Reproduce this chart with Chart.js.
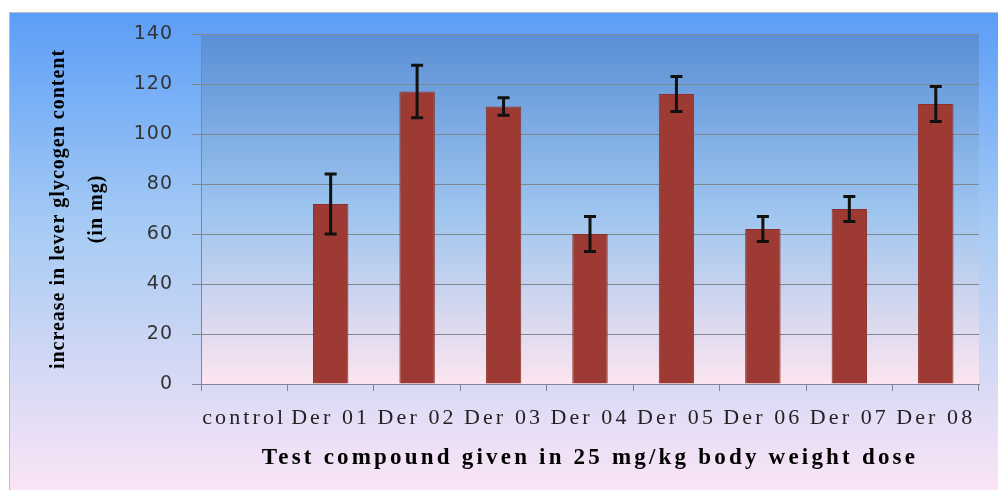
<!DOCTYPE html>
<html>
<head>
<meta charset="utf-8">
<script src="https://cdn.jsdelivr.net/npm/chart.js@4/dist/chart.umd.min.js"></script>
<style>
  html, body { margin: 0; padding: 0; background: #fff; }
  #wrap { width: 998px; height: 490px; }
</style>
</head>
<body>
<div id="wrap"><canvas id="glyChart"></canvas></div>
<script>
const categories = ['control', 'Der 01', 'Der 02', 'Der 03', 'Der 04', 'Der 05', 'Der 06', 'Der 07', 'Der 08'];
const glycogen = [0, 72, 117, 111, 60, 116, 62, 70, 112];
const errors = [null, 12, 10.5, 3.5, 7, 7, 5, 5, 7];
const yTicks = [0, 20, 40, 60, 80, 100, 120, 140];

// spaced text: canvas letterSpacing around a scale's draw method
function spaced(fn, ls) {
    return function (...args) {
        const c = this.ctx;
        const old = c.letterSpacing;
        c.letterSpacing = ls;
        fn.apply(this, args);
        c.letterSpacing = old;
    };
}

const letterPlugin = {
    id: 'letters',
    afterUpdate(chart) {
        const x = chart.scales.x, y = chart.scales.y;
        if (x._patched) return;
        const proto = Object.getPrototypeOf(x);
        x.drawLabels = spaced(proto.drawLabels, '3.1px');
        x.drawTitle = spaced(proto.drawTitle, '3.2px');
        y.drawLabels = spaced(Object.getPrototypeOf(y).drawLabels, '1px');
        y.drawTitle = spaced(Object.getPrototypeOf(y).drawTitle, '1px');
        x._patched = true;
    }
};

const backgroundPlugin = {
    id: 'bg',
    beforeDraw(chart) {
        const ctx = chart.ctx;
        const a = chart.chartArea;
        ctx.save();
        ctx.fillStyle = '#ffffff';
        ctx.fillRect(0, 0, chart.width, chart.height);
        // outer frame
        let g = ctx.createLinearGradient(0, 12, 0, chart.height);
        g.addColorStop(0, '#5b9df7');
        g.addColorStop(0.45, '#a6cbf4');
        g.addColorStop(1, '#fbe4f6');
        ctx.fillStyle = g;
        ctx.fillRect(9, 12, chart.width - 9, chart.height - 12);
        ctx.strokeStyle = '#b8c0cc';
        ctx.lineWidth = 1;
        ctx.beginPath();
        ctx.moveTo(9.5, chart.height);
        ctx.lineTo(9.5, 12.5);
        ctx.lineTo(chart.width, 12.5);
        ctx.stroke();
        // plot area
        g = ctx.createLinearGradient(0, a.top, 0, a.bottom);
        g.addColorStop(0, '#5a8fd6');
        g.addColorStop(0.5, '#9cc4ee');
        g.addColorStop(1, '#fde5f0');
        ctx.fillStyle = g;
        ctx.fillRect(a.left, a.top, a.right - a.left, a.bottom - a.top);
        ctx.restore();
    }
};

const errorBarPlugin = {
    id: 'errorBars',
    afterDatasetsDraw(chart) {
        const ctx = chart.ctx;
        const meta = chart.getDatasetMeta(0);
        const yScale = chart.scales.y;
        ctx.save();
        ctx.strokeStyle = '#111111';
        ctx.lineWidth = 3;
        meta.data.forEach((bar, i) => {
            const e = errors[i];
            if (e == null) return;
            const top = yScale.getPixelForValue(glycogen[i] + e);
            const bottom = yScale.getPixelForValue(glycogen[i] - e);
            ctx.beginPath();
            ctx.moveTo(bar.x, top);
            ctx.lineTo(bar.x, bottom);
            ctx.moveTo(bar.x - 6, top);
            ctx.lineTo(bar.x + 6, top);
            ctx.moveTo(bar.x - 6, bottom);
            ctx.lineTo(bar.x + 6, bottom);
            ctx.stroke();
        });
        ctx.restore();
    }
};

document.addEventListener('DOMContentLoaded', () => {
    const ctx = document.getElementById('glyChart').getContext('2d');
    new Chart(ctx, {
        type: 'bar',
        data: {
            labels: categories,
            datasets: [{
                data: glycogen,
                backgroundColor: '#9c3a33',
                borderColor: '#8a3029',
                borderWidth: 1,
                barPercentage: 0.41,
                categoryPercentage: 1
            }]
        },
        options: {
            responsive: true,
            maintainAspectRatio: false,
            animation: false,
            layout: { padding: { left: 10, top: 34, right: 19, bottom: 0 } },
            plugins: {
                legend: { display: false },
                tooltip: { enabled: false }
            },
            scales: {
                x: {
                    grid: { drawOnChartArea: false, drawTicks: true, tickLength: 7, offset: true, color: '#7f8791' },
                    border: { color: '#7f8791' },
                    ticks: {
                        color: '#222222',
                        font: { family: 'Liberation Serif', size: 22 },
                        padding: 14,
                        maxRotation: 0,
                        autoSkip: false
                    },
                    title: {
                        display: true,
                        text: 'Test compound given in 25 mg/kg body weight dose',
                        color: '#000000',
                        font: { family: 'Liberation Serif', size: 23, weight: 'bold' },
                        padding: { top: 0, bottom: 18 }
                    },
                    afterFit(s) { s.height = 490 - 384; }
                },
                y: {
                    min: 0,
                    max: 140,
                    afterBuildTicks(s) { s.ticks = yTicks.map(v => ({ value: v })); },
                    grid: { color: '#7f8791', tickLength: 9 },
                    border: { color: '#7f8791' },
                    ticks: {
                        color: '#333333',
                        font: { family: 'DejaVu Sans', size: 19 },
                        padding: 19
                    },
                    title: {
                        display: true,
                        text: ['increase in lever glycogen content', '(in mg)'],
                        color: '#000000',
                        font: { family: 'Liberation Serif', size: 20, weight: 'bold', lineHeight: 1.9 },
                        padding: { top: 30, bottom: 0 }
                    },
                    afterFit(s) { s.width = 201 - 10; }
                }
            }
        },
        plugins: [letterPlugin, backgroundPlugin, errorBarPlugin]
    });
});
</script>
</body>
</html>
